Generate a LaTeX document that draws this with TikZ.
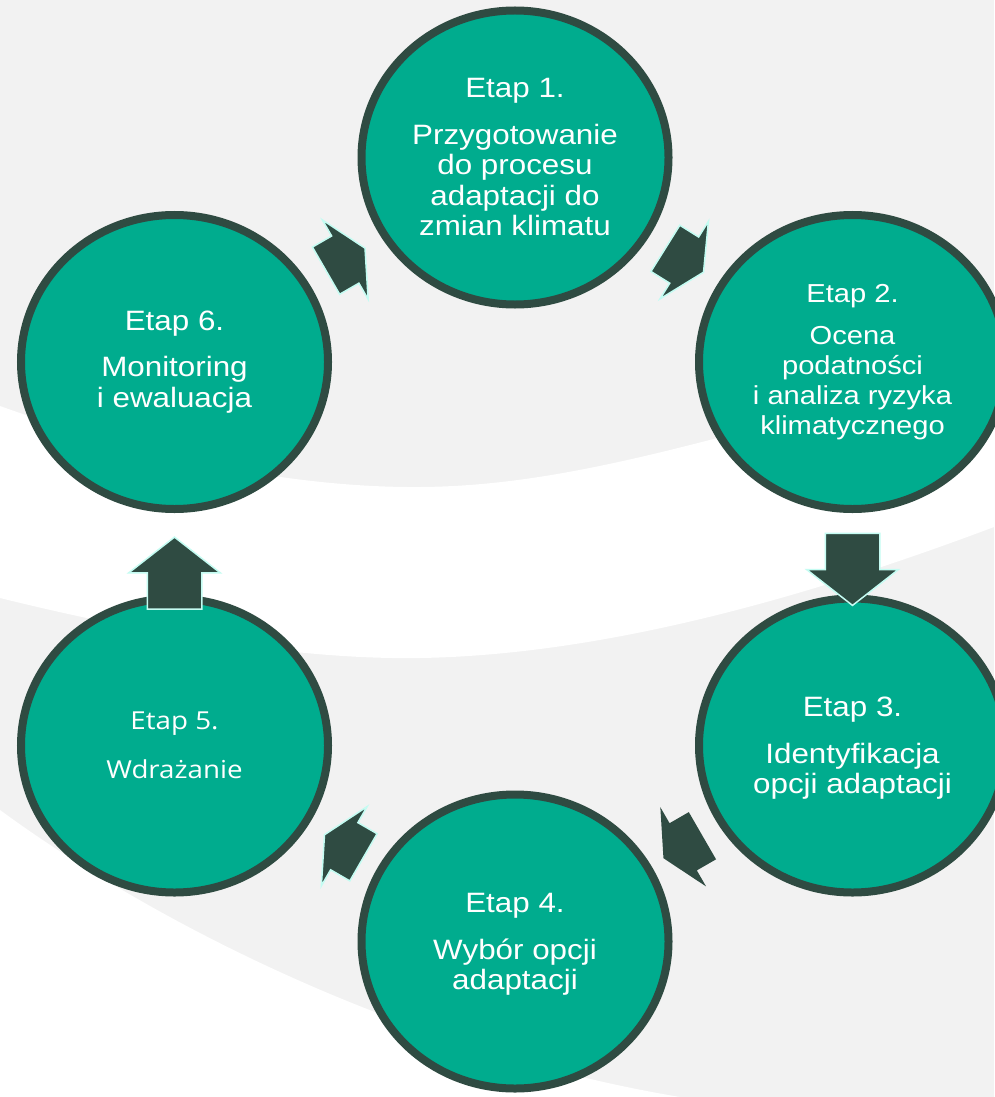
\documentclass[tikz,border=0pt]{standalone}
\usepackage{fontspec}
\setmainfont{Liberation Sans}[FakeStretch=1.12]
\newfontfamily\wdrfont{Open Sans}[FakeStretch=1.12]
\usetikzlibrary{shapes.geometric,shapes.arrows,calc}

\definecolor{bandgray}{HTML}{F2F2F2}
\definecolor{stagefill}{HTML}{00AC8E}
\definecolor{stageline}{HTML}{2F4B42}
\definecolor{arrowedge}{HTML}{C4FCF2}

\begin{document}
\begin{tikzpicture}[x=0.2mm,y=-0.2mm,
  stage/.style={ellipse, draw=stageline, fill=stagefill, line width=1.6mm, minimum width=61.4mm, minimum height=58.8mm, inner sep=0pt, text=white, align=center, font=\fontsize{5.6mm}{6.1mm}\selectfont},
  lowstage/.style={stage, text depth=-1.6mm},
  stagearrow/.style={single arrow, fill=stageline, draw=arrowedge, line width=0.3mm, inner xsep=0pt, inner ysep=5.3mm, single arrow head extend=3.7mm, minimum height=14.4mm, single arrow tip angle=104},
  diagarrow/.style={stagearrow, minimum height=9mm, single arrow tip angle=127}]
\useasboundingbox (0,0) rectangle (994,1097);

%Background with the white bands
\fill[bandgray] (0,0) rectangle (994,1097);
\fill[white] (0,406) .. controls (150,460) and (300,488) .. (420,487) .. controls (560,486) and (700,445) .. (994,360) -- (994,527) .. controls (800,600) and (600,655) .. (420,658) .. controls (300,660) and (150,635) .. (0,598) -- cycle;
\fill[white] (0,810) .. controls (150,920) and (400,1050) .. (680,1097) -- (0,1097) -- cycle;

%The six stages
\node[stage] (s1) at (515,157.5) {Etap 1.\\[3.2mm] Przygotowanie\\do procesu\\adaptacji do\\zmian klimatu};
\node[stage, font=\fontsize{5.2mm}{6mm}\selectfont] (s2) at (852.5,362) {Etap 2.\\[2.3mm] Ocena\\podatności\\i analiza ryzyka\\klimatycznego};
\node[lowstage] (s3) at (852.5,745.5) {Etap 3.\\[3.2mm] Identyfikacja\\opcji adaptacji};
\node[lowstage] (s4) at (515,941.5) {Etap 4.\\[3.2mm] Wybór opcji\\adaptacji};
\node[lowstage, text depth=-4.4mm, font=\wdrfont\fontsize{4.95mm}{9.8mm}\selectfont] (s5) at (174.5,745.5) {Etap 5.\\Wdrażanie};
\node[stage] (s6) at (174.5,362) {Etap 6.\\[3.2mm] Monitoring\\i ewaluacja};

%Arrows between the stages
\node[diagarrow, rotate=-32] (a12) at ($(s1)!0.485!(s2)$) {};
\node[stagearrow, rotate=-90] (a23) at ($(s2)!0.5!(s3)+(0,5)$) {};
\node[diagarrow, draw=none, rotate=-150] (a34) at ($(s3)!0.485!(s4)+(0,3)$) {};
\node[diagarrow, rotate=150] (a45) at ($(s4)!0.485!(s5)+(0,3)$) {};
\node[stagearrow, rotate=90] (a56) at ($(s5)!0.5!(s6)+(0,30)$) {};
\node[diagarrow, rotate=30] (a61) at ($(s6)!0.485!(s1)$) {};

\end{tikzpicture}
\end{document}
